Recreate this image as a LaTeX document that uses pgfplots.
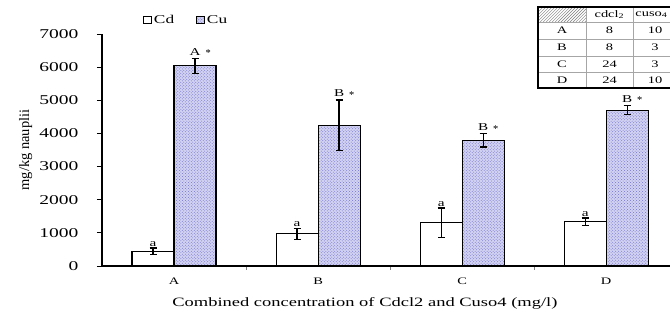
\documentclass[border=0pt]{standalone}
\usepackage{fontspec}
\setmainfont{Liberation Serif}
\usepackage{graphicx}
\usepackage{pgfplots}
\pgfplotsset{compat=1.18}
\usepackage{pgfplotstable}
\usetikzlibrary{patterns}

% horizontally widened lettering
\newcommand\wide[1]{\scalebox{1.45}[1]{#1}}

\definecolor{cuFill}{RGB}{210,210,242}
\definecolor{cuDot}{RGB}{115,115,205}

\pgfplotsset{
  boxlegend/.style={legend image code/.code={\draw[##1, line width=0.8bp] (0bp,-3.5bp) rectangle (8bp,3.5bp);}},
  errstyle/.style={error bars/.cd, y dir=both, y explicit,
    error bar style={line width=1.2bp, black},
    error mark options={rotate=90, mark size=3.5bp, line width=1.2bp, black}},
}

% metal burden (mg/kg nauplii): mean and error for Cd and Cu
\pgfplotstableread{
x cd   cde cu   cue cdlab culab
0 440  105 6040 230 a     A
1 970  170 4250 760 a     B
2 1300 450 3790 200 a     B
3 1330 120 4700 140 a     B
}\metals

\begin{document}
\begin{tikzpicture}
\clip (0,0) rectangle (670bp,320bp);
\begin{axis}[
  at={(102bp,54bp)}, anchor=south west,
  scale only axis, width=569bp, height=232bp,
  xmin=-0.5, xmax=3.45, ymin=0, ymax=7000,
  axis x line*=bottom, axis y line*=left,
  axis line style={-, line width=1.2bp},
  xtick={0,1,2,3}, xticklabels={\wide{A},\wide{B},\wide{C},\wide{D}},
  minor xtick={0.5,1.5,2.5},
  major x tick style={draw=none},
  minor x tick style={line width=0.6bp, gray},
  ytick={0,1000,2000,3000,4000,5000,6000,7000},
  yticklabels={\wide{0},\wide{1000},\wide{2000},\wide{3000},\wide{4000},\wide{5000},\wide{6000},\wide{7000}},
  y tick style={line width=0.8bp, black},
  tick align=outside,
  major tick length=5bp, minor tick length=4bp,
  scaled y ticks=false,
  yticklabel style={font=\fontsize{13.5}{15}\selectfont, xshift=-15bp},
  xticklabel style={font=\fontsize{10}{12}\selectfont, yshift=-3bp},
  xlabel={\wide{Combined concentration of Cdcl2 and Cuso4 (mg/l)}},
  xlabel style={font=\fontsize{12.8}{14}\selectfont, at={(axis description cs:0.462,-0.16)}, anchor=center},
  ylabel={mg/kg nauplii},
  ylabel style={font=\fontsize{14.5}{16}\selectfont, at={(axis description cs:-0.134,0.5)}, anchor=center},
  legend style={draw=none, fill=none, at={(axis description cs:0.072,1.06)}, anchor=west,
    legend columns=2, font=\fontsize{12}{13}\selectfont, inner sep=0pt,
    /tikz/every even column/.append style={column sep=20bp}},
  legend cell align=left,
]
\addplot[ybar, bar width=42bp, bar shift=0bp, fill=white, draw=black, line width=1.1bp,
  boxlegend, errstyle]
  table[x expr=\thisrow{x}-0.1458, y=cd, y error=cde] {\metals};
\addlegendentry{\wide{Cd}}
\addplot[ybar, bar width=42bp, bar shift=0bp, fill=cuFill, draw=black, line width=1.1bp,
  postaction={pattern=crosshatch dots, pattern color=cuDot},
  boxlegend, errstyle]
  table[x expr=\thisrow{x}+0.1458, y=cu, y error=cue] {\metals};
\addlegendentry{\wide{Cu}}
% significance letters above the error bars
\addplot[only marks, mark=none, forget plot, point meta=explicit symbolic,
  nodes near coords={\wide{\pgfplotspointmeta}},
  every node near coord/.append style={font=\fontsize{10.5}{12}\selectfont, anchor=south, inner sep=1.5bp}]
  table[x expr=\thisrow{x}-0.1458, y expr=\thisrow{cd}+\thisrow{cde}, meta=cdlab] {\metals};
\addplot[only marks, mark=none, forget plot, point meta=explicit symbolic,
  nodes near coords={\wide{\pgfplotspointmeta}\rlap{\hspace{5bp}\raisebox{-1.5bp}{*}}},
  every node near coord/.append style={font=\fontsize{10.5}{12}\selectfont, anchor=south, inner sep=1.5bp}]
  table[x expr=\thisrow{x}+0.1458, y expr=\thisrow{cu}+\thisrow{cue}, meta=culab] {\metals};
\end{axis}

% inset key of the combined concentrations
\fill[white] (538bp,232bp) rectangle (680bp,313bp);
\fill[pattern=north east lines, pattern color=gray] (538bp,298bp) rectangle (586bp,313bp);
\draw[gray!70, line width=0.6bp]
  (538bp,298bp) -- (680bp,298bp)
  (538bp,281bp) -- (680bp,281bp)
  (538bp,264bp) -- (680bp,264bp)
  (538bp,248bp) -- (680bp,248bp)
  (586bp,232bp) -- (586bp,313bp)
  (633bp,232bp) -- (633bp,313bp);
\draw[black, line width=1.6bp] (538bp,232bp) rectangle (680bp,313bp);
\begin{scope}[every node/.style={font=\fontsize{10}{12}\selectfont, inner sep=0pt}]
  \node at (609.5bp,305.5bp) {\wide{cdcl\textsubscript{2}}};
  \node at (651.5bp,305.5bp) {\wide{cuso\textsubscript{4}}};
  \node at (562bp,289.5bp) {\wide{A}};
  \node at (609.5bp,289.5bp) {\wide{8}};
  \node at (655bp,289.5bp) {\wide{10}};
  \node at (562bp,272.5bp) {\wide{B}};
  \node at (609.5bp,272.5bp) {\wide{8}};
  \node at (655bp,272.5bp) {\wide{3}};
  \node at (562bp,256bp) {\wide{C}};
  \node at (609.5bp,256bp) {\wide{24}};
  \node at (655bp,256bp) {\wide{3}};
  \node at (562bp,240bp) {\wide{D}};
  \node at (609.5bp,240bp) {\wide{24}};
  \node at (655bp,240bp) {\wide{10}};
\end{scope}
\end{tikzpicture}
\end{document}
